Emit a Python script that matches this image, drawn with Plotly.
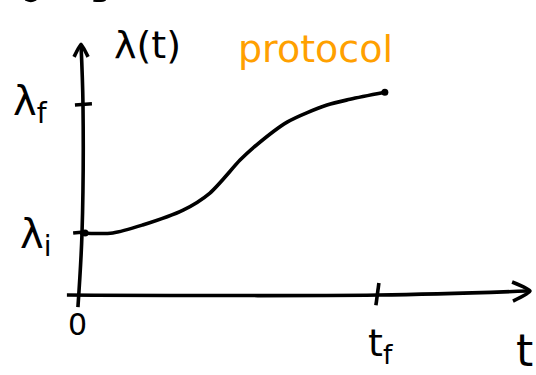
import plotly.graph_objects as go

# Protocol lambda(t): time from 0 to t_f (t_f = 1), lambda from lambda_i to lambda_f
t_vals = [0.0, 0.11, 0.21, 0.346, 0.436, 0.537, 0.58, 0.695, 0.829, 0.906, 1.023]
lam_vals = [0.98, 0.98, 1.105, 1.34, 1.61, 2.13, 2.32, 2.73, 3.0, 3.09, 3.2]

t_ticks = [0.0, 1.0]
t_tick_labels = ["0", "t<sub>f</sub>"]
lam_ticks = [1.0, 3.0]
lam_tick_labels = ["λ<sub>i</sub>", "λ<sub>f</sub>"]

INK = "black"
ORANGE = "#FFA000"
LW = 3.6

fig = go.Figure()

def stroke(xs, ys, color=INK, width=LW, smoothing=1.0):
    fig.add_trace(go.Scatter(x=xs, y=ys, mode="lines", hoverinfo="skip",
                             line=dict(color=color, width=width, shape="spline",
                                       smoothing=smoothing)))

# hand-drawn vertical axis with arrow
stroke([-0.007, 0.0067, 0.01, 0.0034], [-0.19, 0.98, 3.0, 3.95])
stroke([-0.02, 0.0034, 0.027], [3.76, 3.96, 3.76], smoothing=0.4)
# hand-drawn horizontal axis with arrow
stroke([-0.044, 1.0, 1.503], [0.0, 0.0, 0.063])
stroke([1.45, 1.51, 1.453], [0.205, 0.063, -0.095], smoothing=0.6)

# tick marks
stroke([-0.017, 0.04], [lam_ticks[1], lam_ticks[1] + 0.02])
stroke([-0.023, 0.023], [lam_ticks[0] - 0.02, lam_ticks[0]])
stroke([t_ticks[1] + 0.003, t_ticks[1] - 0.007], [0.19, -0.16])

# pen marks along the top edge
stroke([-0.183, -0.165, -0.148], [4.67, 4.645, 4.67], width=3)
stroke([0.045, 0.07, 0.085], [4.655, 4.65, 4.67], width=3)

# the protocol curve with end dots
fig.add_trace(go.Scatter(x=t_vals, y=lam_vals, mode="lines", hoverinfo="skip",
                         line=dict(color=INK, width=LW, shape="spline", smoothing=0.8)))
fig.add_trace(go.Scatter(x=[t_vals[0] + 0.017, t_vals[-1]], y=[lam_vals[0], lam_vals[-1]],
                         mode="markers", hoverinfo="skip",
                         marker=dict(color=INK, size=7)))

FONT = "DejaVu Sans"

def label(x, y, text, size=28, color=INK):
    fig.add_annotation(x=x, y=y, xref="x", yref="y", text=text, showarrow=False,
                       font=dict(family=FONT, size=size, color=color),
                       xanchor="center", yanchor="middle")

label(t_ticks[0] - 0.007, -0.47, t_tick_labels[0], size=30)
label(t_ticks[1] + 0.01, -0.8, t_tick_labels[1], size=38)
label(1.49, -0.87, "t", size=44)
label(-0.15, lam_ticks[0] - 0.09, lam_tick_labels[0], size=40)
label(-0.165, lam_ticks[1] + 0.02, lam_tick_labels[1], size=40)
label(0.225, 3.95, "λ(t)", size=38)
label(0.79, 3.88, "protocol", size=38, color=ORANGE)

fig.update_layout(
    width=536, height=375,
    margin=dict(l=0, r=0, t=0, b=0),
    paper_bgcolor="white", plot_bgcolor="white",
    showlegend=False,
    xaxis=dict(range=[-0.2685, 1.5302], visible=False, fixedrange=True),
    yaxis=dict(range=[-1.263, 4.658], visible=False, fixedrange=True),
)

fig.write_html("out.html")
